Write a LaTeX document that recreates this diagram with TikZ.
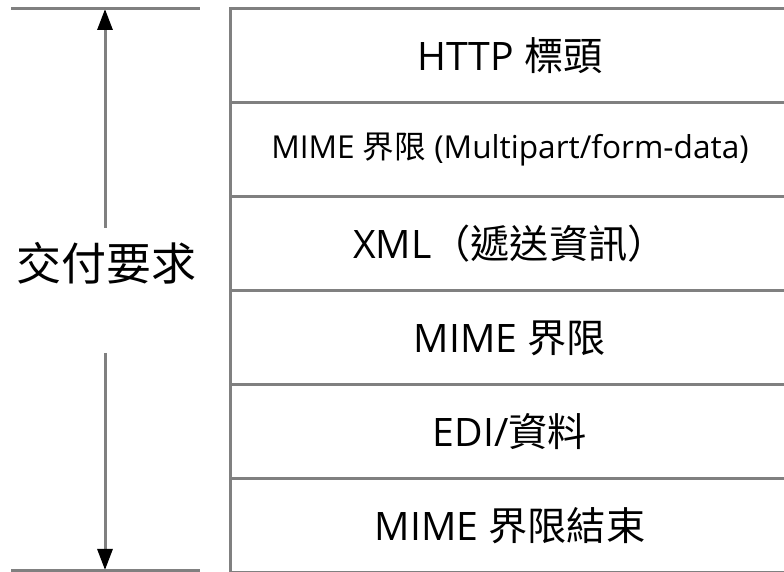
\documentclass[tikz,border=0pt]{standalone}
\usepackage{fontspec}
\setmainfont{Open Sans}
\newfontfamily\cjk{Noto Sans CJK TC}
\usetikzlibrary{arrows.meta}
\definecolor{linegray}{HTML}{808080}

\begin{document}
\begin{tikzpicture}[x=0.5pt,y=-0.5pt,line width=1.5pt]
        \useasboundingbox (0,0) rectangle (784,572);

        \begin{scope}[every node/.style={rectangle, draw=linegray, minimum width=280pt, minimum height=47pt, inner sep=0pt, outer sep=0pt, font=\fontsize{19.6}{23}\selectfont}]
          \node (http)  at (510,56)  {HTTP {\cjk 標頭}};
          \node (mpart) at (510,150) {\fontsize{15.8}{19}\selectfont MIME {\cjk 界限} (Multipart/form-data)};
          \node (xml)   at (510,244) {XML{\cjk （遞送資訊）}};
          \node (mime)  at (510,338) {MIME {\cjk 界限}};
          \node (edi)   at (510,432) {EDI/{\cjk 資料}};
          \node (mend)  at (510,526) {MIME {\cjk 界限結束}};
        \end{scope}

        \coordinate (tl) at (11,9);
        \coordinate (tr) at (200,9);
        \coordinate (bl) at (11,571);
        \coordinate (br) at (200,571);
        \coordinate (uptip)   at (105,9);
        \coordinate (upend)   at (105,228);
        \coordinate (downend) at (105,353);
        \coordinate (downtip) at (105,570);

        \node (req) at (107,263) {\fontsize{22.5}{26}\selectfont\cjk 交付要求};

        \begin{scope}[draw=linegray, every path/.style={-{Triangle[length=10.5pt,width=7.5pt,black]}}]
          \draw[linegray] (upend) -- (uptip);
          \draw[linegray] (downend) -- (downtip);
        \end{scope}
        \draw[linegray] (tl) -- (tr);
        \draw[linegray] (bl) -- (br);

      \end{tikzpicture}
\end{document}
